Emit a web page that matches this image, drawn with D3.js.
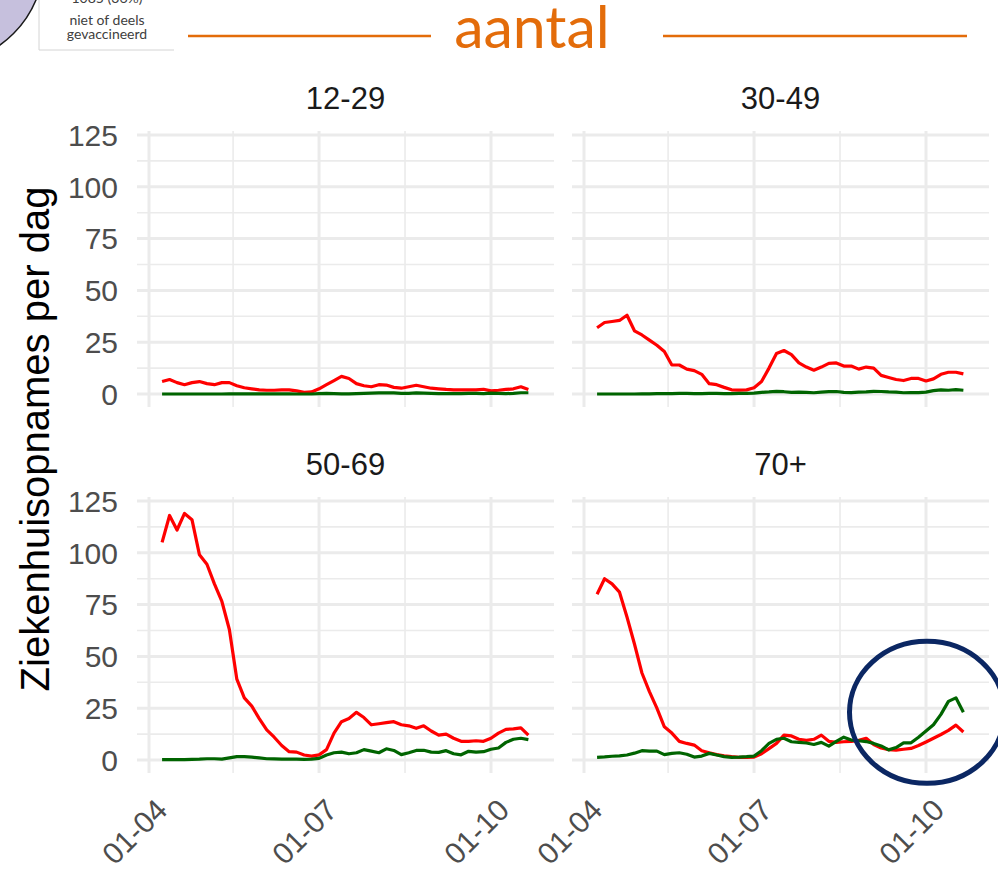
<!DOCTYPE html>
<html>
<head>
<meta charset="utf-8">
<script src="https://cdn.jsdelivr.net/npm/d3@7"></script>
<style>
  body { margin: 0; background: #fff; }
  svg { display: block; }
</style>
</head>
<body>
<div id="chart"></div>
<script>
// dates of the readings (every 4 days)
const dates = [
  "2021-04-08","2021-04-12","2021-04-16","2021-04-20","2021-04-24","2021-04-28",
  "2021-05-02","2021-05-06","2021-05-10","2021-05-14","2021-05-18","2021-05-22","2021-05-26","2021-05-30",
  "2021-06-03","2021-06-07","2021-06-11","2021-06-15","2021-06-19","2021-06-23","2021-06-27",
  "2021-07-01","2021-07-05","2021-07-09","2021-07-13","2021-07-17","2021-07-21","2021-07-25","2021-07-29",
  "2021-08-02","2021-08-06","2021-08-10","2021-08-14","2021-08-18","2021-08-22","2021-08-26","2021-08-30",
  "2021-09-03","2021-09-07","2021-09-11","2021-09-15","2021-09-19","2021-09-23","2021-09-27",
  "2021-10-01","2021-10-05","2021-10-09","2021-10-13","2021-10-17","2021-10-21"
];

const ageGroups = ["12-29", "30-49", "50-69", "70+"];

// niet of deels gevaccineerd (red)
const red1229 = [6,7,5.5,4.5,5.5,6,5,4.5,5.5,5.5,4,3,2.5,2,1.8,1.8,2,2,1.5,0.8,1,2.5,4.5,6.5,8.5,7.5,5,4,3.5,4.5,4.3,3.2,2.8,3.5,4.2,3.5,2.8,2.5,2.2,2,2,2,2,2.3,1.5,1.8,2.2,2.5,3.5,2.2];
const red3049 = [32,34.5,35,35.5,38,30.5,28.5,26,23.5,20.5,14,14,12,11.3,9.5,5,4.5,3.2,2,1.9,2,3,6,12.5,19.5,21,19,15,13,11.5,13,14.8,15,13.5,13.5,12,13,12.5,9,8,7,6.5,7.5,7.5,6.3,7.3,9.5,10.5,10.5,9.7];
const red5069 = [105,118,111,119,116,99,94.5,85,76.5,63,39,30,26,20,14.5,11,7,4,3.8,2.4,1.9,2.5,5,13,18.5,20,23,20.5,17,17.5,18,18.5,17,16.5,15.3,16.5,14,12,12.5,10.5,9,9,9.3,9,10.5,13,14.8,15,15.5,12];
const red70 = [80,87.5,85,81,69,56,42,33,25,16,13,9,8,7.2,4.5,3.5,2.6,2,1.6,1.3,1.3,1.4,3,5.5,8,12,11.6,10,9.5,10,12,9,8.5,8.8,9,9.5,10.5,7.5,5.8,5,4.8,5.2,5.6,7,8.7,10.5,12.3,14.3,16.8,13.5];

// volledig gevaccineerd (green)
const green1229 = [0,0,0,0,0,0,0,0,0,0.1,0.1,0.1,0.1,0.1,0.1,0.1,0.1,0.1,0,0,0,0.2,0.3,0.2,0.1,0.1,0.2,0.3,0.4,0.5,0.6,0.5,0.3,0.3,0.5,0.4,0.3,0.2,0.2,0.2,0.2,0.3,0.3,0.2,0.4,0.3,0.2,0.3,0.6,0.6];
const green3049 = [0,0,0,0,0,0,0.1,0.1,0.2,0.2,0.2,0.3,0.3,0.2,0.2,0.3,0.3,0.2,0.2,0.3,0.3,0.4,0.8,1,1.3,1.1,0.8,0.9,0.8,0.6,0.9,1.1,1.2,0.8,0.7,0.9,1,1.3,1.2,1,0.9,0.6,0.7,0.7,0.9,1.6,2,1.8,2.1,1.8];
const green5069 = [0.2,0.2,0.2,0.2,0.3,0.4,0.6,0.6,0.4,1,1.6,1.6,1.4,1,0.6,0.5,0.4,0.4,0.4,0.3,0.4,0.8,2.4,3.5,3.8,3,3.5,5,4.3,3.5,5.4,4.6,2.6,3.5,4.6,4.7,3.8,3.7,4.5,3,2.5,4.2,3.8,4,5.2,5.8,8.5,10,10.5,9.8];
const green70 = [1.3,1.5,1.8,2,2.4,3.3,4.5,4.3,4.3,2.6,3.2,3.5,2.8,1.4,1.9,3.2,2.4,1.6,1.3,1.4,1.6,1.9,4.5,8,10,10.5,8.8,8.5,8.2,7.5,8.5,6.7,9,11,9.6,9.3,8.9,8,6.8,4.9,6,8.3,8.3,11,14,17,22,28.3,30,23];

const redSeries = [red1229, red3049, red5069, red70];
const greenSeries = [green1229, green3049, green5069, green70];

const yTicks = [0, 25, 50, 75, 100, 125];
const xTicks = ["2021-04-01", "2021-07-01", "2021-10-01"];
const xTickLabels = ["01-04", "01-07", "01-10"];

const width = 998, height = 872;
const parse = d3.timeParse("%Y-%m-%d");

const svg = d3.select("#chart")
  .append("svg")
  .attr("width", width)
  .attr("height", height);

svg.append("rect").attr("width", width).attr("height", height).attr("fill", "#fff");

// panel geometry
const panelW = 417, panelH = 276;
const colX = [137, 572], rowY = [131, 497];

const x = d3.scaleTime()
  .domain([parse(xTicks[0]), parse(xTicks[2])])
  .range([12, 354]);

const y = d3.scaleLinear()
  .domain([0, 125])
  .range([263, 4]);

const minorX = [d3.timeDay.offset(parse(xTicks[0]), 45), d3.timeDay.offset(parse(xTicks[1]), 46)];
const minorY = [12.5, 37.5, 62.5, 87.5, 112.5];

const line = d3.line()
  .x((d, i) => x(parse(dates[i])))
  .y(d => y(d));

const grid = "#ebebeb";

ageGroups.forEach((name, k) => {
  const col = k % 2, row = Math.floor(k / 2);
  const g = svg.append("g")
    .attr("transform", `translate(${colX[col]},${rowY[row]})`);

  g.append("clipPath").attr("id", "clip" + k)
    .append("rect").attr("width", panelW).attr("height", panelH);

  g.selectAll(".minor-y").data(minorY).enter().append("line")
    .attr("x1", 0).attr("x2", panelW)
    .attr("y1", d => y(d)).attr("y2", d => y(d))
    .attr("stroke", grid).attr("stroke-width", 1.6);

  g.selectAll(".minor-x").data(minorX).enter().append("line")
    .attr("x1", d => x(d)).attr("x2", d => x(d))
    .attr("y1", 0).attr("y2", panelH)
    .attr("stroke", grid).attr("stroke-width", 1.6);

  g.selectAll(".major-y").data(yTicks).enter().append("line")
    .attr("x1", 0).attr("x2", panelW)
    .attr("y1", d => y(d)).attr("y2", d => y(d))
    .attr("stroke", grid).attr("stroke-width", 3);

  g.selectAll(".major-x").data(xTicks).enter().append("line")
    .attr("x1", d => x(parse(d))).attr("x2", d => x(parse(d)))
    .attr("y1", 0).attr("y2", panelH)
    .attr("stroke", grid).attr("stroke-width", 3);

  const lines = g.append("g").attr("clip-path", `url(#clip${k})`);

  lines.append("path")
    .datum(redSeries[k])
    .attr("d", line)
    .attr("fill", "none")
    .attr("stroke", "#ff0000")
    .attr("stroke-width", 3.2)
    .attr("stroke-linejoin", "round");

  lines.append("path")
    .datum(greenSeries[k])
    .attr("d", line)
    .attr("fill", "none")
    .attr("stroke", "#006400")
    .attr("stroke-width", 3.2)
    .attr("stroke-linejoin", "round");

  // strip title
  g.append("text")
    .attr("x", panelW / 2)
    .attr("y", -22)
    .attr("text-anchor", "middle")
    .style("font-family", "'Liberation Sans', Arial, sans-serif")
    .style("font-size", "31px")
    .attr("fill", "#1a1a1a")
    .text(name);

  if (col === 0) {
    g.selectAll(".ylab").data(yTicks).enter().append("text")
      .attr("x", -19)
      .attr("y", d => y(d))
      .attr("dy", "0.36em")
      .attr("text-anchor", "end")
      .style("font-family", "'Liberation Sans', Arial, sans-serif")
      .style("font-size", "30px")
      .attr("fill", "#4d4d4d")
      .text(d => d);
  }

  if (row === 1) {
    xTicks.forEach((t, i) => {
      const tx = x(parse(t)) + 20, ty = 812 - rowY[row];
      g.append("text")
        .attr("transform", `translate(${tx},${ty}) rotate(-45)`)
        .attr("text-anchor", "end")
        .style("font-family", "'Liberation Sans', Arial, sans-serif")
        .style("font-size", "30px")
        .attr("fill", "#4d4d4d")
        .text(xTickLabels[i]);
    });
  }

  // highlight circle in the 70+ panel
  if (name === "70+") {
    g.append("ellipse")
      .attr("cx", x(parse(xTicks[2])) + 1)
      .attr("cy", y(23))
      .attr("rx", 77.5)
      .attr("ry", 71)
      .attr("fill", "none")
      .attr("stroke", "#0b2763")
      .attr("stroke-width", 5);
  }
});

// y axis title
svg.append("text")
  .attr("transform", "translate(49,439) rotate(-90)")
  .attr("text-anchor", "middle")
  .style("font-family", "'Liberation Sans', Arial, sans-serif")
  .style("font-size", "40px")
  .attr("fill", "#000")
  .text("Ziekenhuisopnames per dag");

// header: orange rule with "aantal"
const orange = "#e36c0a";
svg.append("line").attr("x1", 188).attr("x2", 431).attr("y1", 36).attr("y2", 36)
  .attr("stroke", orange).attr("stroke-width", 2.5);
svg.append("line").attr("x1", 663).attr("x2", 967).attr("y1", 36).attr("y2", 36)
  .attr("stroke", orange).attr("stroke-width", 2.5);
svg.append("text")
  .attr("x", 532)
  .attr("y", 48)
  .attr("text-anchor", "middle")
  .style("font-family", "Lato, sans-serif")
  .style("font-size", "59px")
  .attr("fill", orange)
  .text("aantal");

// leftover of the pie chart legend in the corner
svg.append("circle")
  .attr("cx", -60).attr("cy", -40).attr("r", 104)
  .attr("fill", "#c6c0dd")
  .attr("stroke", "#1a1a1a")
  .attr("stroke-width", 1.5);

svg.append("path")
  .attr("d", "M39,0 V50 H174")
  .attr("fill", "none")
  .attr("stroke", "#d4d4d4")
  .attr("stroke-width", 1);

const legendLines = ["1085 (36%)", "niet of deels", "gevaccineerd"];
const legendBase = [3, 25, 38.5];
svg.selectAll(".legend").data(legendLines).enter().append("text")
  .attr("x", 107)
  .attr("y", (d, i) => legendBase[i])
  .attr("text-anchor", "middle")
  .style("font-family", "Lato, sans-serif")
  .style("font-size", "14px")
  .attr("fill", "#404040")
  .text(d => d);
</script>
</body>
</html>
